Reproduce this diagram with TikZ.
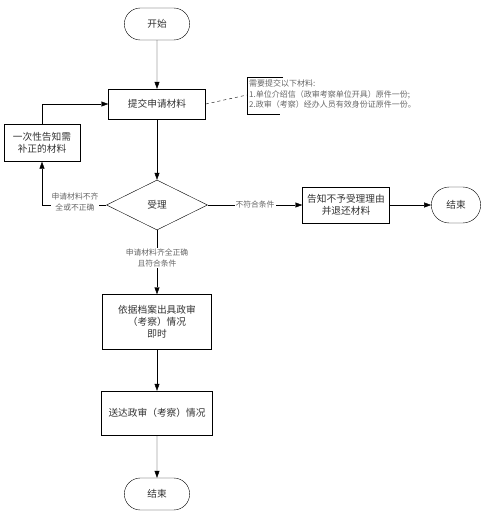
\documentclass[tikz,border=0pt]{standalone}
\usepackage{fontspec}
\setmainfont{Noto Sans CJK SC}
\usetikzlibrary{arrows.meta, positioning, calc, shapes.geometric, shapes.misc}

\begin{document}
\begin{tikzpicture}[x=1pt, y=-1pt,
    every node/.style={font=\fontsize{9.7}{12}\selectfont, text=black!80},
    term/.style={rounded rectangle, draw, minimum width=72pt, minimum height=32pt},
    proc/.style={rectangle, draw, align=center},
    cond/.style={diamond, draw, aspect=2, minimum width=101pt, minimum height=50pt, inner sep=0pt},
    lbl/.style={font=\fontsize{7.8}{10.5}\selectfont, text=black!60, align=center, fill=white, inner sep=1pt},
    flow/.style={-{Triangle[length=7pt, width=5pt]}}]
    \useasboundingbox (0,0) rectangle (490,515);

    \node[term] (start) at (157,24) {开始};
    \node[proc, minimum width=97pt, minimum height=30pt] (submit) at (157,104) {提交申请材料};
    \node[proc, minimum width=76pt, minimum height=37pt, inner sep=1pt] (notify) at (42,143) {一次性告知需\\补正的材料};
    \node[cond] (accept) at (157,205) {受理};
    \node[proc, minimum width=87pt, minimum height=36pt, inner sep=1pt] (refuse) at (346,205) {告知不予受理理由\\并退还材料};
    \node[term, minimum width=56pt, minimum height=36pt] (end1) at (456,205) {结束};
    \node[proc, minimum width=109pt, minimum height=55pt] (issue) at (157,322) {依据档案出具政审\\（考察）情况\\即时};
    \node[proc, minimum width=111pt, minimum height=44pt] (deliver) at (157,413) {送达政审（考察）情况};
    \node[term] (end2) at (157,494) {结束};

    % note on the materials
    \node[anchor=west, align=left, inner sep=1pt, font=\fontsize{8}{10.8}\selectfont, text=black!60] (note) at (248,94)
        {需要提交以下材料:\\1.单位介绍信（政审考察单位开具）原件一份;\\2.政审（考察）经办人员有效身份证原件一份。};
    \coordinate (ntop) at (247,77);
    \coordinate (nbot) at (247,114);
    \draw (ntop -| 283,0) -- (ntop) -- (nbot) -- (nbot -| 280,0);
    \draw[dashed] (submit.east) -- (247,95);

    \draw[flow] (start) -- (submit);
    \draw[flow] (submit) -- (accept);
    \draw[flow] (accept.west) -| (notify.south);
    \draw[flow] (notify.north) |- (submit.west);
    \draw[flow] (accept.east) -- (refuse.west);
    \draw[flow] (refuse) -- (end1);
    \draw[flow] (accept.south) -- (issue.north);
    \draw[flow] (issue) -- (deliver);
    \draw[flow] (deliver) -- (end2);

    \node[lbl] (l1) at (75,202) {申请材料不齐\\全或不正确};
    \node[lbl] (l2) at (255,205) {不符合条件};
    \node[lbl] (l3) at (157,258) {申请材料齐全正确\\且符合条件};
\end{tikzpicture}
\end{document}
